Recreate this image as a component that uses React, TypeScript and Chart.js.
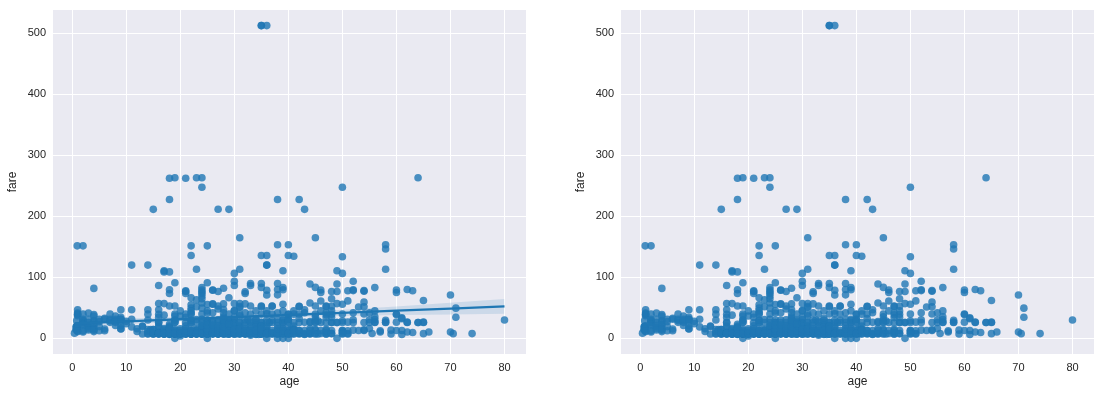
import React, { useEffect, useRef } from "react";
import { Chart, registerables } from "chart.js";
Chart.register(...registerables);

type P = [number, number];

const xTicks = [0, 10, 20, 30, 40, 50, 60, 70, 80];
const yTicks = [0, 100, 200, 300, 400, 500];
const xRange = [-3.56, 83.98];
const yRange = [-25.6, 537.9];

// [age, fare]
const kids: P[] = [
  [0.42, 8.52], [0.67, 14.5], [0.75, 19.26], [0.75, 19.26], [0.83, 29], [0.83, 18.75], [0.83, 14.4], [0.92, 151.55],
  [1, 11.13], [1, 39.69], [1, 46.9], [1, 37.0], [1, 20.58], [1, 15.74], [1, 12.18], [1, 39], [1, 41.58],
  [2, 151.55], [2, 21.08], [2, 29.13], [2, 39.69], [2, 27.9], [2, 10.46], [2, 26], [2, 31.28], [2, 23], [2, 12.29],
  [3, 41.58], [3, 26], [3, 18.75], [3, 15.9], [3, 21.08], [3, 31.39], [3, 13.78],
  [4, 81.86], [4, 16.7], [4, 27.9], [4, 29.13], [4, 39], [4, 11.13], [4, 22.03], [4, 23], [4, 13.42], [4, 15.25], [4, 36.75],
  [5, 27.75], [5, 31.39], [5, 12.48], [5, 19.26], [6, 31.28], [6, 33], [6, 12.48], [6, 15.25],
  [7, 39.69], [7, 26.25], [7, 29.13], [7, 31.39], [8, 21.08], [8, 36.75], [8, 26.25], [8, 29.13], [8, 31.28],
  [9, 31.39], [9, 46.9], [9, 27.9], [9, 15.25], [9, 20.53], [9, 34.38], [9, 31.28], [9, 15.9],
  [10, 27.9], [10, 24.15], [11, 46.9], [11, 18.79], [11, 31.28], [11, 120], [12, 11.24], [12, 15.75],
];

const teens: P[] = [
  [13, 19.5], [13, 7.23], [13, 20.25], [14, 30.07], [14, 7.85], [14, 11.24], [14, 39.69], [14, 46.9], [14, 7.23], [14, 120], [14, 14.45],
  [14.5, 14.45], [15, 8.03], [15, 7.23], [15, 14.45], [15, 211.34], [15, 14.45], [15, 7.23], [15, 8.03],
  [16, 46.9], [16, 39.4], [16, 34.38], [16, 26], [16, 18], [16, 10.5], [16, 9.5], [16, 8.05], [16, 7.75], [16, 7.73], [16, 57], [16, 86.5], [16, 20.25], [16, 7.65], [16, 26],
  [17, 10.5], [17, 7.93], [17, 14.46], [17, 7.05], [17, 7.13], [17, 8.66], [17, 7.23], [17, 108.9], [17, 110.88], [17, 57], [17, 12], [17, 16.1], [17, 7.9],
  [18, 18], [18, 17.8], [18, 7.75], [18, 11.5], [18, 13], [18, 7.78], [18, 14.45], [18, 9.35], [18, 6.5], [18, 8.05], [18, 7.8], [18, 20.21], [18, 7.5],
  [18, 262.38], [18, 227.53], [18, 108.9], [18, 79.65], [18, 73.5], [18, 53.1], [18, 7.85], [18, 23], [18, 13],
  [19, 7.88], [19, 8.16], [19, 263], [19, 0], [19, 7.78], [19, 6.75], [19, 10.17], [19, 26], [19, 7.65], [19, 14.5], [19, 91.08], [19, 53.1], [19, 36.75],
  [19, 30], [19, 7.05], [19, 8.05], [19, 13], [19, 7.85], [19, 30], [19, 26.28],
  [20, 8.05], [20, 7.85], [20, 9.84], [20, 7.23], [20, 9.22], [20, 4.01], [20, 7.93], [20, 15.74], [20, 9.5], [20, 36.75], [20, 7.05], [20, 8.66], [20, 7.93], [20, 9.23],
];

const twenties: P[] = [
  [21, 8.05], [21, 7.8], [21, 10.5], [21, 73.5], [21, 262.38], [21, 7.73], [21, 11.5], [21, 8.43], [21, 77.96], [21, 76.73], [21, 34.38], [21, 7.78], [21, 8.66], [21, 7.75], [21, 16.1], [21, 26], [21, 7.85], [21, 9.5],
  [22, 7.25], [22, 9], [22, 7.23], [22, 151.55], [22, 135.63], [22, 66.6], [22, 55], [22, 49.5], [22, 10.52], [22, 39.69], [22, 7.8], [22, 8.05], [22, 13], [22, 41.58], [22, 7.52], [22, 7.9], [22, 23], [22, 29],
  [23, 263], [23, 113.28], [23, 63.36], [23, 7.55], [23, 13], [23, 15.05], [23, 7.85], [23, 10.5], [23, 8.05], [23, 7.93], [23, 13.79], [23, 9.22], [23, 7.05],
  [24, 263], [24, 247.52], [24, 8.05], [24, 83.16], [24, 79.2], [24, 76.29], [24, 73.5], [24, 69.3], [24, 65], [24, 57.98], [24, 49.5], [24, 16.7], [24, 13], [24, 7.14], [24, 7.05], [24, 7.8], [24, 26], [24, 14.5], [24, 9.5], [24, 31.39], [24, 19.25],
  [25, 151.55], [25, 91.08], [25, 55.44], [25, 7.65], [25, 0], [25, 7.05], [25, 7.25], [25, 13], [25, 26], [25, 7.74], [25, 17.8], [25, 7.78], [25, 30], [25, 41.58], [25, 10.5], [25, 26],
  [26, 7.93], [26, 8.66], [26, 14.45], [26, 79.2], [26, 55.9], [26, 78.85], [26, 7.78], [26, 18.79], [26, 56.5], [26, 7.89], [26, 30], [26, 13], [26, 8.05], [26, 7.78], [26, 26],
  [27, 11.13], [27, 21], [27, 211.5], [27, 76.73], [27, 53.1], [27, 13], [27, 7.8], [27, 6.98], [27, 30.5], [27, 10.5], [27, 7.93], [27, 26], [27, 8.66], [27, 12.48], [27, 7.79],
  [28, 35.5], [28, 82.17], [28, 47.1], [28, 7.9], [28, 56.5], [28, 9.5], [28, 13], [28, 7.78], [28, 26], [28, 33], [28, 22.53], [28, 7.25], [28, 10.5], [28, 15.85], [28, 26.55], [28, 8.05],
  [28.5, 7.23], [28.5, 16.1], [29, 26], [29, 10.5], [29, 9.5], [29, 8.05], [29, 211.34], [29, 66.6], [29, 7.92], [29, 27.72], [29, 30], [29, 15.05], [29, 7.05], [29, 21], [29, 7.78], [29, 13],
  [30, 12.48], [30, 106.43], [30, 93.5], [30, 86.5], [30, 56.93], [30, 13], [30, 8.66], [30, 7.23], [30, 9.5], [30, 31], [30, 16.1], [30, 24.15], [30, 21], [30, 7.9], [30, 13], [30, 26], [30, 45.5], [30.5, 7.75],
];

const thirties: P[] = [
  [31, 18], [31, 164.87], [31, 113.28], [31, 57], [31, 52], [31, 7.78], [31, 20.53], [31, 26.25], [31, 10.5], [31, 37], [31, 7.85], [31, 13], [31, 26], [31, 50.5],
  [32, 10.5], [32, 56.5], [32, 76.29], [32, 73.5], [32, 7.92], [32, 30.5], [32, 7.85], [32, 13], [32, 8.05], [32, 15.5], [32, 26], [32, 7.78], [32.5, 13], [32.5, 30.07],
  [33, 15.85], [33, 90], [33, 86.5], [33, 53.1], [33, 7.9], [33, 12.28], [33, 26], [33, 9.5], [33, 5], [33, 8.65], [33, 20.53],
  [34, 13], [34, 23], [34, 26], [34, 8.05], [34, 6.5], [34, 32.5], [34, 10.5], [34, 21], [34, 14.4], [34.5, 6.44],
  [35, 53.1], [35, 8.05], [35, 26], [35, 512.33], [35, 512.33], [35, 90], [35, 83.48], [35, 135.63], [35, 52], [35, 26.29], [35, 21], [35, 7.05], [35, 10.5], [35, 20.25], [35, 7.13],
  [36, 512.33], [36, 135.63], [36, 120], [36, 120], [36, 78.85], [36, 71], [36, 0], [36, 26], [36, 13], [36, 7.5], [36, 12.18], [36, 10.5], [36, 17.4], [36, 40.13], [36.5, 26],
  [37, 53.1], [37, 52.55], [37, 7.93], [37, 26], [37, 9.59], [37, 29.7],
  [38, 71.28], [38, 31.39], [38, 227.53], [38, 153.46], [38, 90], [38, 80], [38, 0], [38, 7.9], [38, 13], [38, 7.23], [38, 8.66], [38, 21],
  [39, 31.28], [39, 83.16], [39, 79.65], [39, 55.9], [39, 110.88], [39, 0], [39, 7.93], [39, 13], [39, 26], [39, 24.15], [39, 29.13], [39, 16.1],
  [40, 27.72], [40, 9.48], [40, 153.46], [40, 135.63], [40, 0], [40, 7.9], [40, 39], [40, 13], [40, 15.5], [40, 31.39], [40, 7.23], [40, 31], [40.5, 7.75], [40.5, 15.1],
];

const forties: P[] = [
  [41, 134.5], [41, 20.21], [41, 39.69], [41, 7.13], [41, 14.11], [41, 15.06],
  [42, 52], [42, 227.53], [42, 52.55], [42, 13], [42, 7.55], [42, 26], [42, 8.4], [42, 32.5],
  [43, 211.34], [43, 46.9], [43, 26.25], [43, 8.05], [43, 6.45],
  [44, 89.1], [44, 57.98], [44, 26], [44, 16.1], [44, 7.92], [44, 8.05], [44, 27.72],
  [45, 83.48], [45, 164.87], [45, 53.1], [45, 26.55], [45, 14.45], [45, 8.05], [45, 13.5], [45, 30], [45, 35.5], [45.5, 7.23], [45.5, 28.5],
  [46, 61.18], [46, 79.2], [46, 26], [46, 75.24],
  [47, 52], [47, 53.1], [47, 9], [47, 15], [47, 38.5], [47, 25.59], [47, 7.25], [47, 34.02],
  [48, 76.73], [48, 65], [48, 52.55], [48, 39.6], [48, 13], [48, 7.85], [48, 25.93], [48, 34.38],
  [49, 89.1], [49, 76.73], [49, 56.93], [49, 110.88], [49, 0], [49, 26], [49, 25.93],
  [50, 247.52], [50, 133.65], [50, 106.43], [50, 55.9], [50, 13], [50, 8.05], [50, 26], [50, 10.5], [50, 28.71],
];

const seniors: P[] = [
  [51, 77.96], [51, 61.38], [51, 12.53], [51, 26.55], [51, 8.05], [51, 7.05],
  [52, 93.5], [52, 78.27], [52, 79.65], [52, 13.5], [52, 30.5], [53, 51.48],
  [54, 77.29], [54, 78.27], [54, 59.4], [54, 51.86], [54, 26], [54, 14], [55, 16], [55, 30.5], [55.5, 8.05],
  [56, 83.16], [56, 26.55], [56, 30.7], [56, 35.5], [57, 10.5], [57, 12.35],
  [58, 153.46], [58, 146.52], [58, 113.28], [58, 26.55], [58, 29.7], [59, 7.25], [59, 13.5],
  [60, 79.2], [60, 75.25], [60, 39], [60, 26.55], [61, 6.24], [61, 32.32], [61, 33.5],
  [62, 80], [62, 10.5], [62, 26.55], [63, 77.96], [63, 9.59], [64, 263], [64, 26],
  [65, 61.98], [65, 7.75], [65, 26.55], [66, 10.5], [70, 71], [70, 10.5], [70.5, 7.75],
  [71, 34.65], [71, 49.5], [74, 7.78], [80, 30],
];

// more third-class and second-class passengers in the dense low band
const steerage: P[] = [
  [16, 7.75], [16, 8.05], [17, 7.9], [17, 8.05], [18, 7.23], [18, 7.9], [18, 15.5], [19, 7.9], [19, 8.05], [19, 9.5],
  [20, 7.23], [20, 7.9], [20, 13], [21, 7.25], [21, 7.9], [21, 13], [21, 20.53], [22, 7.25], [22, 7.75], [22, 8.05],
  [22, 10.5], [22, 13], [22, 26], [22, 30], [23, 7.25], [23, 7.9], [23, 8.05], [23, 26], [23, 31], [24, 7.25],
  [24, 7.9], [24, 10.5], [24, 8.05], [24, 21], [25, 7.9], [25, 8.05], [25, 13], [25, 15.5], [25, 22], [26, 7.25],
  [26, 7.9], [26, 10.5], [26, 16.1], [26, 22], [27, 7.25], [27, 7.9], [27, 8.05], [27, 14.45], [27, 18], [28, 7.75],
  [28, 8.05], [28, 13], [28, 19.5], [28, 30], [29, 7.25], [29, 7.9], [29, 8.05], [29, 13], [29, 24], [30, 7.25],
  [30, 7.75], [30, 8.05], [30, 10.5], [30, 15.5], [30, 35], [31, 7.25], [31, 7.9], [31, 8.05], [31, 13], [31, 15.5],
  [32, 7.25], [32, 7.75], [32, 8.05], [32, 13], [32, 20], [33, 7.25], [33, 7.75], [33, 13], [33, 28], [34, 7.25],
  [34, 7.9], [34, 13], [34, 30], [35, 7.25], [35, 7.9], [35, 13], [35, 15.5], [36, 7.25], [36, 7.9], [36, 8.05],
  [36, 20], [36, 30], [37, 7.25], [37, 7.75], [37, 13], [38, 7.25], [38, 8.05], [38, 15.5], [38, 26], [39, 7.25],
  [39, 7.9], [39, 8.05], [39, 13], [40, 7.25], [40, 8.05], [40, 26], [41, 7.85], [41, 13], [41, 26], [42, 7.65],
  [42, 13], [43, 7.25], [43, 13], [44, 7.25], [44, 13], [45, 7.25], [45, 26], [46, 7.9], [46, 13], [47, 7.25],
  [47, 13], [48, 7.9], [48, 26], [50, 13], [50, 7.25], [52, 26], [53, 13], [54, 13], [55, 26], [56, 26],
  [58, 26], [60, 13], [61, 13], [62, 26], [64, 26], [65, 26],
];

// scattered mid fares (35-60)
const midFares: P[] = [
  [17, 38], [19, 40], [20, 45], [21, 40], [22, 45], [23, 52], [24, 40], [25, 45], [26, 42], [27, 48],
  [28, 42], [29, 40], [30, 45], [31, 40], [32, 42], [33, 40], [34, 45], [35, 40], [36, 45], [37, 40],
  [38, 42], [39, 45], [40, 40], [41, 45], [42, 40], [43, 42], [45, 40], [46, 45], [47, 42], [48, 45],
  [50, 40], [52, 42], [54, 40], [55, 42], [56, 45], [60, 40],
];

// regression fit (left panel) and its confidence band
const fitAges = [0.42, 10, 20, 30, 40, 50, 60, 70, 80];
const fitFare = [24.4, 27.8, 31.3, 34.8, 38.3, 41.8, 45.3, 48.8, 52.3];
const ciLow = [17.9, 23.0, 27.7, 31.5, 34.5, 36.8, 38.3, 39.3, 40.3];
const ciHigh = [30.9, 32.6, 34.9, 38.1, 42.1, 46.8, 52.3, 58.3, 64.3];

const BLUE = "#1f77b4";
const FONT = "'Liberation Sans', Arial, sans-serif";
const TEXT = "#262626";

const bgPlugin = {
  id: "bgArea",
  beforeDraw(chart: any) {
    const { ctx, chartArea } = chart;
    if (!chartArea) return;
    ctx.save();
    ctx.fillStyle = "#EAEAF2";
    ctx.fillRect(chartArea.left, chartArea.top, chartArea.right - chartArea.left, chartArea.bottom - chartArea.top);
    ctx.restore();
  },
};

function buildConfig(withFit: boolean, padRight: number): any {
  const points = [...kids, ...teens, ...twenties, ...thirties, ...forties, ...seniors, ...steerage, ...midFares].map(([x, y]) => ({ x, y }));
  const datasets: any[] = [
    {
      label: "points",
      data: points,
      pointRadius: 3.8,
      pointHoverRadius: 3.8,
      pointBorderWidth: 0,
      backgroundColor: "rgba(31,119,180,0.8)",
      borderColor: "rgba(31,119,180,0.8)",
      order: 3,
    },
  ];
  if (withFit) {
    datasets.push(
      {
        label: "ciHigh",
        data: fitAges.map((x, i) => ({ x, y: ciHigh[i] })),
        showLine: true,
        pointRadius: 0,
        borderWidth: 0,
        borderColor: "rgba(0,0,0,0)",
        backgroundColor: "rgba(31,119,180,0.15)",
        fill: "+1",
        order: 2,
      },
      {
        label: "ciLow",
        data: fitAges.map((x, i) => ({ x, y: ciLow[i] })),
        showLine: true,
        pointRadius: 0,
        borderWidth: 0,
        borderColor: "rgba(0,0,0,0)",
        fill: false,
        order: 2,
      },
      {
        label: "fit",
        data: fitAges.map((x, i) => ({ x, y: fitFare[i] })),
        showLine: true,
        pointRadius: 0,
        borderWidth: 2.3,
        borderColor: BLUE,
        fill: false,
        order: 1,
      }
    );
  }
  return {
    type: "scatter",
    data: { datasets },
    plugins: [bgPlugin],
    options: {
      responsive: false,
      animation: false,
      devicePixelRatio: 1,
      layout: { padding: { left: 0, top: 10, right: padRight, bottom: 0 } },
      plugins: { legend: { display: false }, tooltip: { enabled: false } },
      scales: {
        x: {
          type: "linear",
          min: xRange[0],
          max: xRange[1],
          afterBuildTicks: (s: any) => {
            s.ticks = xTicks.map((v) => ({ value: v }));
          },
          afterFit: (s: any) => {
            s.height = 44;
            s.paddingLeft = 0;
            s.paddingRight = 0;
          },
          grid: { color: "#ffffff", lineWidth: 1, drawTicks: false },
          border: { display: false },
          ticks: { color: TEXT, font: { family: FONT, size: 11 }, padding: 7, maxRotation: 0, callback: (v: any) => String(v) },
          title: { display: true, text: "age", color: TEXT, font: { family: FONT, size: 12 }, padding: { top: 0, bottom: 9 } },
        },
        y: {
          type: "linear",
          min: yRange[0],
          max: yRange[1],
          afterBuildTicks: (s: any) => {
            s.ticks = yTicks.map((v) => ({ value: v }));
          },
          afterFit: (s: any) => {
            s.width = 53;
            s.paddingTop = 0;
            s.paddingBottom = 0;
          },
          grid: { color: "#ffffff", lineWidth: 1, drawTicks: false },
          border: { display: false },
          ticks: { color: TEXT, font: { family: FONT, size: 11 }, padding: 7, callback: (v: any) => String(v) },
          title: { display: true, text: "fare", color: TEXT, font: { family: FONT, size: 12 }, padding: { top: 5, bottom: 0 } },
        },
      },
    },
  };
}

export default function App() {
  const leftRef = useRef<HTMLCanvasElement>(null);
  const rightRef = useRef<HTMLCanvasElement>(null);
  useEffect(() => {
    const a = new Chart(leftRef.current as HTMLCanvasElement, buildConfig(true, 24));
    const b = new Chart(rightRef.current as HTMLCanvasElement, buildConfig(false, 6));
    return () => {
      a.destroy();
      b.destroy();
    };
  }, []);
  return (
    <div style={{ position: "absolute", left: 0, top: 0, width: 1100, height: 398, background: "#fff", overflow: "hidden" }}>
      <canvas ref={leftRef} width={550} height={398} style={{ position: "absolute", left: 0, top: 0, width: 550, height: 398 }} />
      <canvas ref={rightRef} width={532} height={398} style={{ position: "absolute", left: 568, top: 0, width: 532, height: 398 }} />
    </div>
  );
}
